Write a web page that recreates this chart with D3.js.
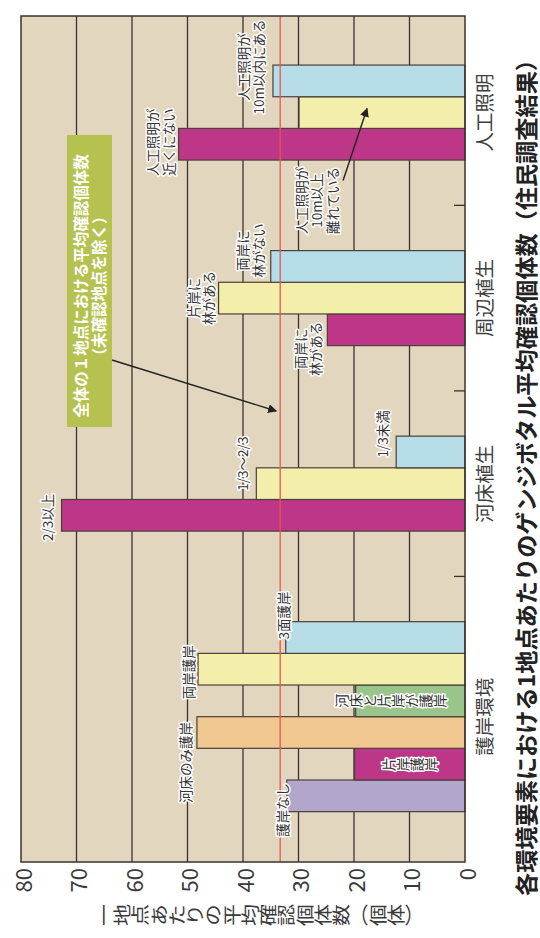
<!DOCTYPE html>
<html>
<head>
<meta charset="utf-8">
<script src="https://cdn.jsdelivr.net/npm/d3@7"></script>
<style>
  body { margin: 0; background: #fff; }
  text { font-family: "Noto Sans CJK JP", "Noto Sans", sans-serif; }
</style>
</head>
<body>
<div id="chart"></div>
<script>
// データ（元のグラフの左→右の順。画像では下→上）
const groups = ["護岸環境", "河床植生", "周辺植生", "人工照明"];
const barNames = [
  ["護岸なし", "片岸護岸", "河床のみ護岸", "河床と片岸が護岸", "両岸護岸", "3面護岸"],
  ["2/3以上", "1/3～2/3", "1/3未満"],
  ["両岸に林がある", "片岸に林がある", "両岸に林がない"],
  ["人工照明が近くにない", "人工照明が10m以上離れている", "人工照明が10m以内にある"]
];
const barValues = [
  [32.1, 19.9, 48.3, 19.7, 48.1, 32.3],
  [72.7, 37.6, 12.4],
  [24.8, 44.4, 35.0],
  [51.6, 29.9, 34.6]
];
const overallAverage = 33.3;
const valueTicks = [0, 10, 20, 30, 40, 50, 60, 70, 80];

const averageNote = ["全体の１地点における平均確認個体数", "（未確認地点を除く）"];
const axisTitle = "一地点あたりの平均確認個体数（個体）";
const chartTitle = "各環境要素における1地点あたりのゲンジボタル平均確認個体数（住民調査結果）";

// 色
const barColors = [
  ["#b2a6cd", "#bd3688", "#efc78f", "#99c48b", "#f3efab", "#b6dde7"],
  ["#bd3688", "#f3efab", "#b6dde7"],
  ["#bd3688", "#f3efab", "#b6dde7"],
  ["#bd3688", "#f3efab", "#b6dde7"]
];

// ラベルの配置（棒の端からの距離など）
const labelLayout = [
  [
    { lines: ["護岸なし"], dx: 4.7, dy: 14 },
    { lines: ["片岸護岸"], vertical: true, anchor: "middle" },
    { lines: ["河床のみ護岸"], dx: 11.7, dy: 30 },
    { lines: ["河床と片岸が護岸"], vertical: true, anchor: "start", dx: 20.7 },
    { lines: ["両岸護岸"], dx: 10.3, dy: 3 },
    { lines: ["3面護岸"], dx: 3, dy: -22 }
  ],
  [
    { lines: ["2/3以上"], dx: 14.3, dy: 2 },
    { lines: ["1/3～2/3"], dx: 14.3, dy: -20 },
    { lines: ["1/3未満"], dx: 14, dy: -18 }
  ],
  [
    { lines: ["両岸に", "林がある"], dx: 19.8, dy: 19 },
    { lines: ["片岸に", "林がある"], dx: 18.3, dy: 0 },
    { lines: ["両岸に", "林がない"], dx: 20.7, dy: -16 }
  ],
  [
    { lines: ["人工照明が", "近くにない"], dx: 18.7, dy: -2 },
    { lines: ["人工照明が", "10m以上", "離れている"], dx: -17, dy: 88, arrow: [44, 68, 68, -4] },
    { lines: ["人工照明が", "10m以内にある"], dx: 22.7, dy: -14 }
  ]
];

const W = 540, H = 938;
const plot = { left: 21, right: 465, top: 16, bottom: 862 };
const ink = "#3b322c";

const svg = d3.select("#chart").append("svg")
  .attr("width", W).attr("height", H);

const defs = svg.append("defs");
defs.append("marker")
  .attr("id", "arrow")
  .attr("viewBox", "0 0 10 10")
  .attr("refX", 9).attr("refY", 5)
  .attr("markerWidth", 9).attr("markerHeight", 9)
  .attr("markerUnits", "userSpaceOnUse")
  .attr("orient", "auto")
  .append("path").attr("d", "M0,0 L10,5 L0,10 Z").attr("fill", "#222");

// 値の軸（右が0、左が80）
const x = d3.scaleLinear().domain([0, 80]).range([plot.right, plot.left]);

// 棒の並び（グループ間にすき間）
const unitsBottom = 1.59, unitsGap = 2.86, unitsTop = 1.55;
const groupStart = [];
let u = unitsBottom;
barValues.forEach((vals, g) => {
  groupStart.push(u);
  u += vals.length + (g < barValues.length - 1 ? unitsGap : 0);
});
const y = d3.scaleLinear().domain([0, u + unitsTop]).range([plot.bottom, plot.top]);

const bars = [];
barValues.forEach((vals, g) => vals.forEach((v, i) => bars.push({
  g, i, value: v, name: barNames[g][i], color: barColors[g][i],
  layout: labelLayout[g][i], u: groupStart[g] + i
})));

// 背景
svg.append("rect")
  .attr("x", plot.left).attr("y", plot.top)
  .attr("width", plot.right - plot.left).attr("height", plot.bottom - plot.top)
  .attr("fill", "#e2d6bf");

// 目盛り線
svg.append("g").selectAll("line")
  .data(valueTicks.slice(1, -1))
  .enter().append("line")
  .attr("x1", d => x(d)).attr("x2", d => x(d))
  .attr("y1", plot.top).attr("y2", plot.bottom)
  .attr("stroke", ink).attr("stroke-width", 1.3);

// 棒
svg.append("g").selectAll("rect")
  .data(bars)
  .enter().append("rect")
  .attr("x", d => x(d.value))
  .attr("y", d => y(d.u + 1))
  .attr("width", d => x(0) - x(d.value))
  .attr("height", d => y(d.u) - y(d.u + 1))
  .attr("fill", d => d.color)
  .attr("stroke", "#4a403a").attr("stroke-width", 1.2);

// 全体平均の線
svg.append("line")
  .attr("x1", x(overallAverage)).attr("x2", x(overallAverage))
  .attr("y1", plot.top).attr("y2", plot.bottom)
  .attr("stroke", "#e9564f").attr("stroke-width", 1.3);

// 枠
svg.append("rect")
  .attr("x", plot.left).attr("y", plot.top)
  .attr("width", plot.right - plot.left).attr("height", plot.bottom - plot.top)
  .attr("fill", "none").attr("stroke", ink).attr("stroke-width", 1.5);

// グループの区切り
svg.append("g").selectAll("line")
  .data(groups.slice(0, -1).map((gname, g) => groupStart[g] + barValues[g].length + unitsGap / 2))
  .enter().append("line")
  .attr("x1", plot.right - 11).attr("x2", plot.right)
  .attr("y1", d => y(d)).attr("y2", d => y(d))
  .attr("stroke", ink).attr("stroke-width", 1.3);

// 値の目盛りラベル
const axis = svg.append("g")
  .attr("transform", `translate(0,${plot.bottom})`)
  .call(d3.axisBottom(x).tickValues(valueTicks).tickSize(0));
axis.select(".domain").remove();
axis.selectAll("text")
  .attr("y", null).attr("dy", null)
  .attr("transform", "translate(0,6) rotate(-90)")
  .attr("text-anchor", "end")
  .attr("dominant-baseline", "central")
  .attr("font-family", "'Noto Sans CJK JP', sans-serif")
  .attr("font-size", 22)
  .attr("fill", "#3a3a3a");

// 軸タイトル（縦書きを回転）
svg.append("text")
  .attr("transform", "translate(259,915) rotate(-90) scale(1,0.83)")
  .style("writing-mode", "vertical-rl")
  .attr("text-anchor", "middle")
  .attr("font-size", 22)
  .attr("fill", "#3a3a3a")
  .text(axisTitle);

// 項目名
svg.append("g").selectAll("text")
  .data(groups)
  .enter().append("text")
  .attr("transform", (d, g) => `translate(483,${y(groupStart[g] + barValues[g].length / 2)}) rotate(-90)`)
  .attr("text-anchor", "middle")
  .attr("dominant-baseline", "central")
  .attr("font-size", 19.5)
  .attr("fill", "#3f3f3f")
  .text(d => d);

// 棒のラベル
const lh = 15.5;
const labelG = svg.append("g")
  .attr("font-size", 13.5)
  .attr("fill", "#333")
  .attr("stroke", "#fff").attr("stroke-width", 3)
  .attr("stroke-linejoin", "round")
  .attr("paint-order", "stroke");

bars.forEach(d => {
  const L = d.layout;
  const end = x(d.value);
  const cy = y(d.u + 0.5);
  if (L.vertical) {
    const px = L.anchor === "middle" ? (end + x(0)) / 2 : end - L.dx;
    labelG.append("text")
      .attr("transform", `translate(${px},${cy}) rotate(-90)`)
      .style("writing-mode", "vertical-rl")
      .attr("text-anchor", L.anchor)
      .attr("font-size", 14)
      .text(L.lines[0]);
    return;
  }
  const cx = end - L.dx, ly = cy + L.dy;
  const t = labelG.append("text")
    .attr("transform", `translate(${cx},${ly}) rotate(-90)`)
    .attr("text-anchor", "middle")
    .attr("dominant-baseline", "central");
  L.lines.forEach((line, k) => {
    t.append("tspan")
      .attr("x", 0)
      .attr("dy", k === 0 ? -(L.lines.length - 1) / 2 * lh : lh)
      .text(line);
  });
  if (L.arrow) {
    const [sx, sy, ex, ey] = L.arrow;
    svg.append("line")
      .attr("x1", end + sx).attr("y1", cy + sy)
      .attr("x2", end + ex).attr("y2", cy + ey)
      .attr("stroke", "#222").attr("stroke-width", 1.4)
      .attr("marker-end", "url(#arrow)");
  }
});

// 全体平均の注記
const box = { x: 67, y: 135, w: 45, h: 292 };
svg.append("rect")
  .attr("x", box.x).attr("y", box.y)
  .attr("width", box.w).attr("height", box.h)
  .attr("fill", "#b6c24f");
const note = svg.append("text")
  .attr("transform", `translate(${box.x + 22},${box.y + box.h / 2 + 5}) rotate(-90)`)
  .attr("text-anchor", "middle")
  .attr("dominant-baseline", "central")
  .attr("font-size", 15.5)
  .attr("font-weight", "bold")
  .attr("fill", "#fff");
averageNote.forEach((line, k) => {
  note.append("tspan").attr("x", 0).attr("dy", k === 0 ? -9 : 18).text(line);
});
svg.append("line")
  .attr("x1", box.x + box.w).attr("y1", 360)
  .attr("x2", x(overallAverage) - 4).attr("y2", 411)
  .attr("stroke", "#222").attr("stroke-width", 1.4)
  .attr("marker-end", "url(#arrow)");

// タイトル
svg.append("text")
  .attr("transform", "translate(525,472) rotate(-90)")
  .attr("text-anchor", "middle")
  .attr("dominant-baseline", "central")
  .attr("font-size", 22.5)
  .attr("font-weight", "bold")
  .attr("fill", "#222")
  .attr("textLength", 848)
  .attr("lengthAdjust", "spacingAndGlyphs")
  .text(chartTitle);
</script>
</body>
</html>
